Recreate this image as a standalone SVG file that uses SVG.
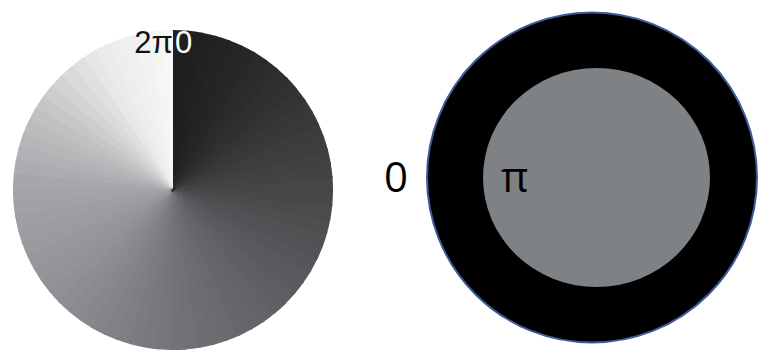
<svg xmlns="http://www.w3.org/2000/svg" xmlns:xlink="http://www.w3.org/1999/xlink" width="759" height="356" viewBox="0 0 759 356">
<defs>
<style>
.lbl{font-family:"Liberation Sans",Arial,sans-serif;font-size:31px}
.lbl2{font-family:"Open Sans","Liberation Sans",sans-serif;font-size:42px;fill:#000}
</style>
<path id="w" d="M173,193 L173,30 A160,160 0 0,1 189.72,30.88 Z"/>
</defs>
<rect width="759" height="356" fill="#fff"/>
<g id="phase-wheel">
<use xlink:href="#w" transform="rotate(355 173 190)" fill="rgb(247,247,247)"/>
<use xlink:href="#w" transform="rotate(350 173 190)" fill="rgb(245,245,245)"/>
<use xlink:href="#w" transform="rotate(345 173 190)" fill="rgb(242,242,242)"/>
<use xlink:href="#w" transform="rotate(340 173 190)" fill="rgb(240,240,240)"/>
<use xlink:href="#w" transform="rotate(335 173 190)" fill="rgb(238,238,238)"/>
<use xlink:href="#w" transform="rotate(330 173 190)" fill="rgb(235,235,236)"/>
<use xlink:href="#w" transform="rotate(325 173 190)" fill="rgb(231,231,232)"/>
<use xlink:href="#w" transform="rotate(320 173 190)" fill="rgb(224,224,226)"/>
<use xlink:href="#w" transform="rotate(315 173 190)" fill="rgb(218,218,220)"/>
<use xlink:href="#w" transform="rotate(310 173 190)" fill="rgb(211,211,213)"/>
<use xlink:href="#w" transform="rotate(305 173 190)" fill="rgb(205,205,207)"/>
<use xlink:href="#w" transform="rotate(300 173 190)" fill="rgb(198,198,201)"/>
<use xlink:href="#w" transform="rotate(295 173 190)" fill="rgb(192,192,195)"/>
<use xlink:href="#w" transform="rotate(290 173 190)" fill="rgb(187,187,190)"/>
<use xlink:href="#w" transform="rotate(285 173 190)" fill="rgb(182,182,185)"/>
<use xlink:href="#w" transform="rotate(280 173 190)" fill="rgb(177,177,181)"/>
<use xlink:href="#w" transform="rotate(275 173 190)" fill="rgb(172,172,176)"/>
<use xlink:href="#w" transform="rotate(270 173 190)" fill="rgb(166,167,171)"/>
<use xlink:href="#w" transform="rotate(265 173 190)" fill="rgb(163,164,168)"/>
<use xlink:href="#w" transform="rotate(260 173 190)" fill="rgb(161,162,166)"/>
<use xlink:href="#w" transform="rotate(255 173 190)" fill="rgb(158,159,163)"/>
<use xlink:href="#w" transform="rotate(250 173 190)" fill="rgb(156,157,161)"/>
<use xlink:href="#w" transform="rotate(245 173 190)" fill="rgb(154,155,159)"/>
<use xlink:href="#w" transform="rotate(240 173 190)" fill="rgb(151,152,156)"/>
<use xlink:href="#w" transform="rotate(235 173 190)" fill="rgb(149,150,154)"/>
<use xlink:href="#w" transform="rotate(230 173 190)" fill="rgb(147,148,152)"/>
<use xlink:href="#w" transform="rotate(225 173 190)" fill="rgb(144,145,149)"/>
<use xlink:href="#w" transform="rotate(220 173 190)" fill="rgb(141,142,146)"/>
<use xlink:href="#w" transform="rotate(215 173 190)" fill="rgb(138,139,143)"/>
<use xlink:href="#w" transform="rotate(210 173 190)" fill="rgb(135,136,140)"/>
<use xlink:href="#w" transform="rotate(205 173 190)" fill="rgb(132,133,137)"/>
<use xlink:href="#w" transform="rotate(200 173 190)" fill="rgb(129,130,134)"/>
<use xlink:href="#w" transform="rotate(195 173 190)" fill="rgb(126,127,131)"/>
<use xlink:href="#w" transform="rotate(190 173 190)" fill="rgb(123,124,128)"/>
<use xlink:href="#w" transform="rotate(185 173 190)" fill="rgb(120,121,125)"/>
<use xlink:href="#w" transform="rotate(180 173 190)" fill="rgb(117,118,122)"/>
<use xlink:href="#w" transform="rotate(175 173 190)" fill="rgb(114,115,119)"/>
<use xlink:href="#w" transform="rotate(170 173 190)" fill="rgb(112,113,117)"/>
<use xlink:href="#w" transform="rotate(165 173 190)" fill="rgb(109,110,114)"/>
<use xlink:href="#w" transform="rotate(160 173 190)" fill="rgb(107,108,112)"/>
<use xlink:href="#w" transform="rotate(155 173 190)" fill="rgb(105,106,110)"/>
<use xlink:href="#w" transform="rotate(150 173 190)" fill="rgb(102,103,107)"/>
<use xlink:href="#w" transform="rotate(145 173 190)" fill="rgb(100,101,105)"/>
<use xlink:href="#w" transform="rotate(140 173 190)" fill="rgb(98,99,102)"/>
<use xlink:href="#w" transform="rotate(135 173 190)" fill="rgb(95,96,99)"/>
<use xlink:href="#w" transform="rotate(130 173 190)" fill="rgb(93,94,97)"/>
<use xlink:href="#w" transform="rotate(125 173 190)" fill="rgb(90,91,94)"/>
<use xlink:href="#w" transform="rotate(120 173 190)" fill="rgb(88,89,92)"/>
<use xlink:href="#w" transform="rotate(115 173 190)" fill="rgb(85,86,89)"/>
<use xlink:href="#w" transform="rotate(110 173 190)" fill="rgb(82,83,86)"/>
<use xlink:href="#w" transform="rotate(105 173 190)" fill="rgb(80,81,83)"/>
<use xlink:href="#w" transform="rotate(100 173 190)" fill="rgb(77,78,80)"/>
<use xlink:href="#w" transform="rotate(95 173 190)" fill="rgb(75,75,77)"/>
<use xlink:href="#w" transform="rotate(90 173 190)" fill="rgb(72,72,74)"/>
<use xlink:href="#w" transform="rotate(85 173 190)" fill="rgb(70,70,72)"/>
<use xlink:href="#w" transform="rotate(80 173 190)" fill="rgb(67,67,69)"/>
<use xlink:href="#w" transform="rotate(75 173 190)" fill="rgb(65,65,67)"/>
<use xlink:href="#w" transform="rotate(70 173 190)" fill="rgb(62,62,64)"/>
<use xlink:href="#w" transform="rotate(65 173 190)" fill="rgb(60,60,62)"/>
<use xlink:href="#w" transform="rotate(60 173 190)" fill="rgb(57,57,59)"/>
<use xlink:href="#w" transform="rotate(55 173 190)" fill="rgb(55,55,57)"/>
<use xlink:href="#w" transform="rotate(50 173 190)" fill="rgb(52,52,54)"/>
<use xlink:href="#w" transform="rotate(45 173 190)" fill="rgb(49,49,51)"/>
<use xlink:href="#w" transform="rotate(40 173 190)" fill="rgb(47,47,49)"/>
<use xlink:href="#w" transform="rotate(35 173 190)" fill="rgb(44,44,46)"/>
<use xlink:href="#w" transform="rotate(30 173 190)" fill="rgb(42,42,44)"/>
<use xlink:href="#w" transform="rotate(25 173 190)" fill="rgb(39,39,41)"/>
<use xlink:href="#w" transform="rotate(20 173 190)" fill="rgb(37,37,39)"/>
<use xlink:href="#w" transform="rotate(15 173 190)" fill="rgb(36,36,37)"/>
<use xlink:href="#w" transform="rotate(10 173 190)" fill="rgb(34,34,35)"/>
<use xlink:href="#w" transform="rotate(5 173 190)" fill="rgb(32,32,33)"/>
<use xlink:href="#w" fill="rgb(31,31,32)"/>
<text class="lbl" x="173" y="53" text-anchor="end" fill="#111">2π</text>
<text class="lbl" x="175" y="53" fill="#fff">0</text>
</g>
<g id="binary-pattern">
<circle cx="592" cy="177.5" r="165" fill="#000" stroke="#3d5a99" stroke-width="2"/>
<ellipse cx="596.5" cy="177.5" rx="113.5" ry="109.5" fill="#7f8285"/>
<text class="lbl2" x="384" y="192">0</text>
<text class="lbl2" x="501" y="192">π</text>
</g>
<g id="connectors"/>
</svg>
